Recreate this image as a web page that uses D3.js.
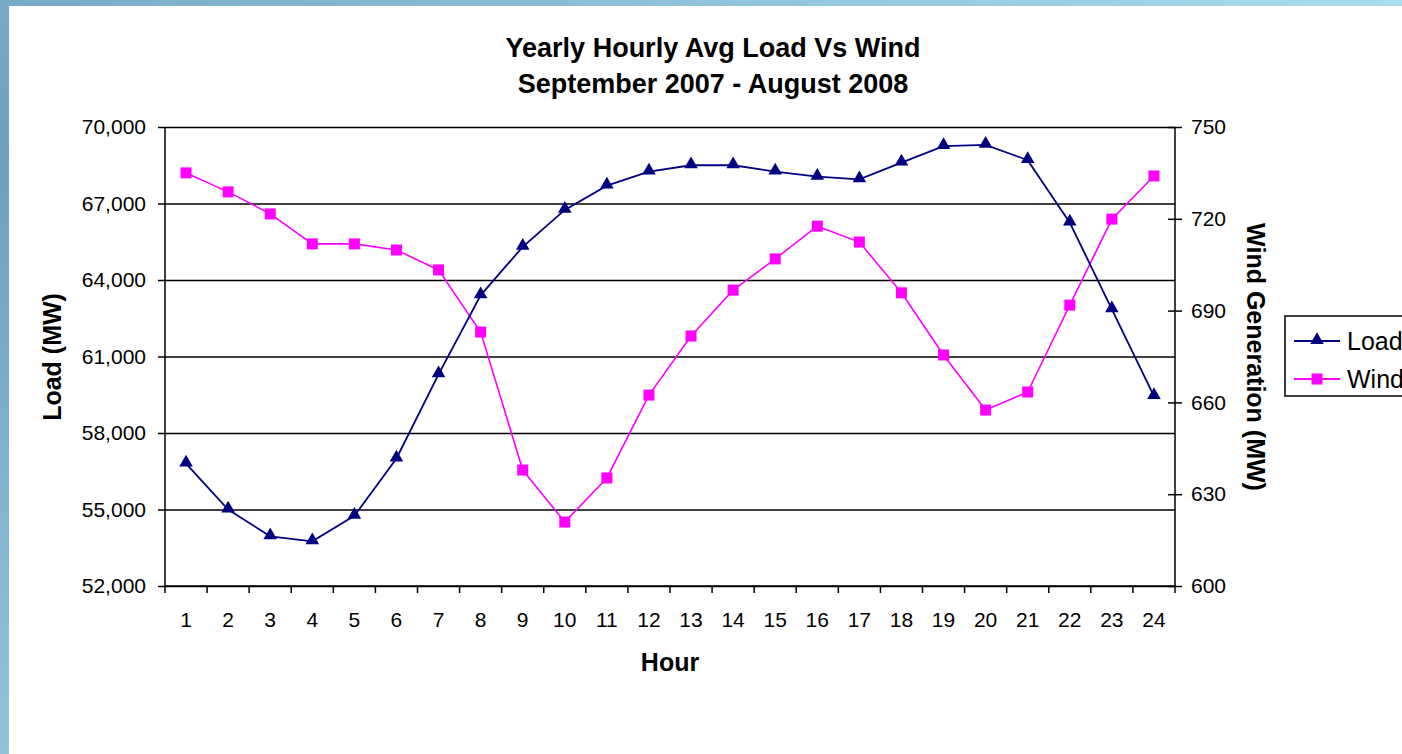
<!DOCTYPE html>
<html>
<head>
<meta charset="utf-8">
<script src="https://cdn.jsdelivr.net/npm/d3@7"></script>
<style>
  html, body { margin: 0; padding: 0; background: #fff; }
  svg { display: block; font-family: "Liberation Sans", Arial, sans-serif; }
</style>
</head>
<body>
<svg id="chart" width="1402" height="754"></svg>
<script>
const hours = d3.range(1, 25).map(String);
const loadValues = [56800, 55000, 53950, 53750, 54750, 57000, 60300, 63400, 65300, 66750, 67700, 68250,
                    68500, 68500, 68250, 68050, 67950, 68600, 69250, 69300, 68700, 66250, 62850, 59450];
const windValues = [735, 728.8, 721.6, 711.8, 711.8, 709.8, 703.3, 683, 637.9, 620.9, 635.3, 662.4,
                    681.7, 696.7, 706.9, 717.6, 712.4, 695.8, 675.5, 657.5, 663.4, 691.8, 719.9, 734];
const loadTicks = [52000, 55000, 58000, 61000, 64000, 67000, 70000];
const windTicks = [600, 630, 660, 690, 720, 750];

const LOAD_COLOR = "#000080";
const WIND_COLOR = "#ff00ff";

const svg = d3.select("#chart");

// slide background: blue strip on top and left
const defs = svg.append("defs");
const grad = defs.append("linearGradient").attr("id", "bg").attr("x1", 0).attr("y1", 1).attr("x2", 1).attr("y2", 0);
grad.append("stop").attr("offset", "0%").attr("stop-color", "#8ec5dc");
grad.append("stop").attr("offset", "40%").attr("stop-color", "#6f9fbf");
grad.append("stop").attr("offset", "100%").attr("stop-color", "#a9dcee");
svg.append("rect").attr("width", 1402).attr("height", 754).attr("fill", "url(#bg)");
svg.append("rect").attr("x", 9).attr("y", 6).attr("width", 1393).attr("height", 748).attr("fill", "#fff");

const pLeft = 165, pRight = 1175, pTop = 127, pBottom = 586;

const x = d3.scaleBand().domain(hours).range([pLeft, pRight]);
const yL = d3.scaleLinear().domain([52000, 70000]).range([pBottom, pTop]);
const yR = d3.scaleLinear().domain([600, 750]).range([pBottom, pTop]);

// gridlines
svg.append("g")
  .attr("transform", `translate(${pLeft},0)`)
  .call(d3.axisLeft(yL).tickValues(loadTicks).tickSize(-(pRight - pLeft)).tickFormat(""))
  .call(g => g.select(".domain").remove())
  .call(g => g.selectAll("line").attr("stroke", "#000").attr("stroke-width", 1.5));

// left axis
svg.append("g")
  .attr("transform", `translate(${pLeft},0)`)
  .call(d3.axisLeft(yL).tickValues(loadTicks).tickSize(7).tickPadding(12).tickFormat(d3.format(",")))
  .call(g => g.select(".domain").attr("stroke", "#000").attr("stroke-width", 1.5).attr("d", `M0,${pTop}V${pBottom}`))
  .call(g => g.selectAll("line").attr("stroke", "#000").attr("stroke-width", 1.5))
  .call(g => g.selectAll("text").attr("font-size", 21).attr("fill", "#000").attr("font-family", "Liberation Sans, Arial, sans-serif"));

// right axis with cross ticks
svg.append("g")
  .attr("transform", `translate(${pRight},0)`)
  .call(d3.axisRight(yR).tickValues(windTicks).tickSize(7).tickPadding(9))
  .call(g => g.select(".domain").attr("stroke", "#000").attr("stroke-width", 1.5).attr("d", `M0,${pTop}V${pBottom}`))
  .call(g => g.selectAll("line").attr("x1", -7).attr("stroke", "#000").attr("stroke-width", 1.5))
  .call(g => g.selectAll("text").attr("font-size", 21).attr("fill", "#000").attr("font-family", "Liberation Sans, Arial, sans-serif"));

// x axis: ticks on category boundaries
const xAxis = svg.append("g").attr("transform", `translate(0,${pBottom})`);
xAxis.append("line").attr("x1", pLeft).attr("x2", pRight).attr("stroke", "#000").attr("stroke-width", 1.5);
xAxis.selectAll(".bt")
  .data(hours.concat(["end"]))
  .join("line")
  .attr("class", "bt")
  .attr("x1", d => d === "end" ? pRight : x(d))
  .attr("x2", d => d === "end" ? pRight : x(d))
  .attr("y1", 0).attr("y2", 7)
  .attr("stroke", "#000").attr("stroke-width", 1.5);
xAxis.selectAll(".lbl")
  .data(hours)
  .join("text")
  .attr("class", "lbl")
  .attr("x", d => x(d) + x.bandwidth() / 2)
  .attr("y", 41)
  .attr("text-anchor", "middle")
  .attr("font-size", 21)
  .text(d => d);

// series
const cx = (d, i) => x(hours[i]) + x.bandwidth() / 2;

svg.append("path")
  .datum(windValues)
  .attr("fill", "none").attr("stroke", WIND_COLOR).attr("stroke-width", 1.6)
  .attr("d", d3.line().x(cx).y(d => yR(d)));

svg.selectAll(".wind-pt")
  .data(windValues)
  .join("rect")
  .attr("class", "wind-pt")
  .attr("x", (d, i) => cx(d, i) - 5.5)
  .attr("y", d => yR(d) - 5.5)
  .attr("width", 11).attr("height", 11)
  .attr("fill", WIND_COLOR);

svg.append("path")
  .datum(loadValues)
  .attr("fill", "none").attr("stroke", LOAD_COLOR).attr("stroke-width", 1.8)
  .attr("d", d3.line().x(cx).y(d => yL(d)));

const tri = d3.symbol().type(d3.symbolTriangle).size(80);
svg.selectAll(".load-pt")
  .data(loadValues)
  .join("path")
  .attr("class", "load-pt")
  .attr("transform", (d, i) => `translate(${cx(d, i)},${yL(d) - 1})`)
  .attr("d", tri)
  .attr("fill", LOAD_COLOR);

// titles
svg.append("text").attr("x", 713).attr("y", 57).attr("text-anchor", "middle")
  .attr("font-size", 27).attr("font-weight", "bold").text("Yearly Hourly Avg Load Vs Wind");
svg.append("text").attr("x", 713).attr("y", 93).attr("text-anchor", "middle")
  .attr("font-size", 27).attr("font-weight", "bold").text("September 2007 - August 2008");

svg.append("text").attr("x", 670).attr("y", 671).attr("text-anchor", "middle")
  .attr("font-size", 25).attr("font-weight", "bold").text("Hour");

svg.append("text").attr("transform", "translate(61,357) rotate(-90)").attr("text-anchor", "middle")
  .attr("font-size", 25).attr("font-weight", "bold").text("Load (MW)");

svg.append("text").attr("transform", "translate(1247,357) rotate(90)").attr("text-anchor", "middle")
  .attr("font-size", 25).attr("font-weight", "bold").text("Wind Generation (MW)");

// legend
const legend = svg.append("g");
legend.append("rect").attr("x", 1285).attr("y", 316).attr("width", 140).attr("height", 80)
  .attr("fill", "#fff").attr("stroke", "#000").attr("stroke-width", 1.5);
const items = [{ name: "Load", color: LOAD_COLOR, y: 341 }, { name: "Wind", color: WIND_COLOR, y: 379 }];
items.forEach(it => {
  legend.append("line").attr("x1", 1294).attr("x2", 1340).attr("y1", it.y).attr("y2", it.y)
    .attr("stroke", it.color).attr("stroke-width", 1.8);
  if (it.name === "Load") {
    legend.append("path").attr("transform", `translate(1317,${it.y - 1})`).attr("d", tri).attr("fill", it.color);
  } else {
    legend.append("rect").attr("x", 1311.5).attr("y", it.y - 5.5).attr("width", 11).attr("height", 11).attr("fill", it.color);
  }
  legend.append("text").attr("x", 1347).attr("y", it.y + 9).attr("font-size", 25).text(it.name);
});
</script>
</body>
</html>
